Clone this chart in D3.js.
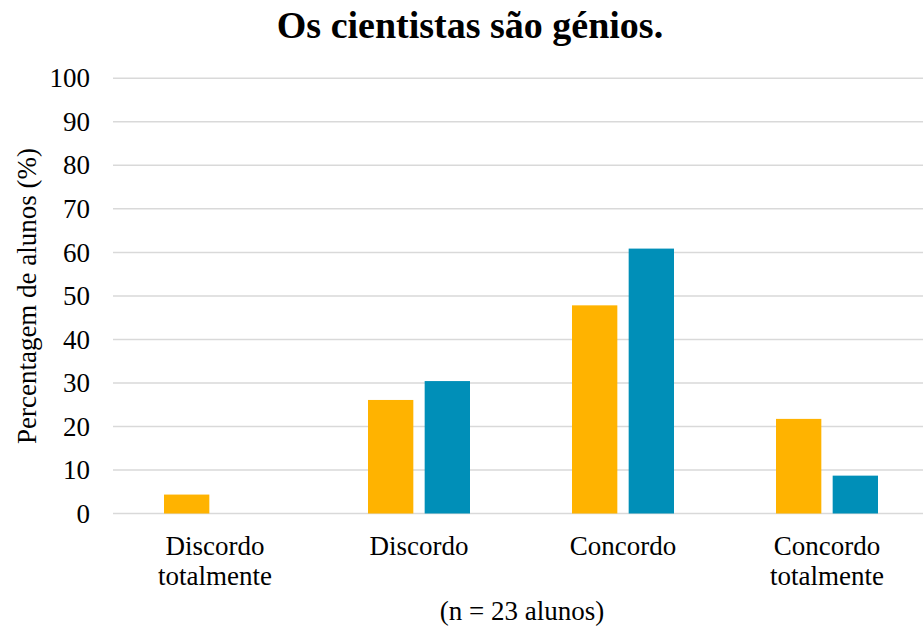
<!DOCTYPE html>
<html>
<head>
<meta charset="utf-8">
<script src="https://cdn.jsdelivr.net/npm/d3@7"></script>
<style>
  body { margin: 0; background: #fff; }
  svg { display: block; }
  text { font-family: "Liberation Serif", "Times New Roman", serif; }
</style>
</head>
<body>
<svg id="chart" width="923" height="630"></svg>
<script>
// dados (n = 23 alunos)
const categorias = ["Discordo totalmente", "Discordo", "Concordo", "Concordo totalmente"];
const series = ["serieA", "serieB"];
const valoresA = [4.35, 26.09, 47.83, 21.74];
const valoresB = [0, 30.43, 60.87, 8.70];
const ticksY = [0, 10, 20, 30, 40, 50, 60, 70, 80, 90, 100];
const cores = ["#FFB300", "#008FB8"];

const fonte = "Liberation Serif, Times New Roman, serif";
const svg = d3.select("#chart");

const x0 = d3.scaleBand()
  .domain(categorias)
  .range([113, 929])
  .paddingInner(0.5)
  .paddingOuter(0.25);

const x1 = d3.scaleBand()
  .domain(series)
  .range([0, x0.bandwidth()])
  .paddingInner(0.2);

const y = d3.scaleLinear().domain([0, 100]).range([513.5, 78.3]);

// grelha
svg.append("g")
  .selectAll("line")
  .data(ticksY)
  .enter().append("line")
  .attr("x1", 113)
  .attr("x2", 929)
  .attr("y1", d => y(d))
  .attr("y2", d => y(d))
  .attr("stroke", "#d9d9d9")
  .attr("stroke-width", 1.5);

// eixo y
const eixoY = svg.append("g")
  .attr("transform", "translate(113,0)")
  .call(d3.axisLeft(y).tickValues(ticksY).tickSize(0).tickPadding(23));
eixoY.attr("font-family", fonte).attr("font-size", 27);
eixoY.select(".domain").remove();
eixoY.selectAll("text")
  .attr("fill", "#000");

// barras
const dados = categorias.map((c, i) => ({ cat: c, vals: [valoresA[i], valoresB[i]] }));

const grupo = svg.append("g")
  .selectAll("g")
  .data(dados)
  .enter().append("g")
  .attr("transform", d => `translate(${x0(d.cat)},0)`);

grupo.selectAll("rect")
  .data(d => d.vals.map((v, j) => ({ serie: series[j], v, j })))
  .enter().append("rect")
  .filter(d => d.v > 0)
  .attr("x", d => x1(d.serie))
  .attr("width", x1.bandwidth())
  .attr("y", d => y(d.v))
  .attr("height", d => y(0) - y(d.v))
  .attr("fill", d => cores[d.j]);

// rótulos das categorias
const rotulos = svg.append("g")
  .selectAll("text")
  .data(categorias)
  .enter().append("text")
  .attr("text-anchor", "middle")
  .attr("font-family", fonte)
  .attr("font-size", 27)
  .attr("fill", "#000")
  .attr("x", d => x0(d) + x0.bandwidth() / 2)
  .attr("y", 555);

rotulos.each(function(d) {
  const palavras = d.split(" ");
  const t = d3.select(this);
  palavras.forEach((p, i) => {
    t.append("tspan")
      .attr("x", x0(d) + x0.bandwidth() / 2)
      .attr("dy", i === 0 ? 0 : 30)
      .text(p);
  });
});

// títulos
svg.append("text")
  .attr("x", 470)
  .attr("y", 38)
  .attr("text-anchor", "middle")
  .attr("font-family", fonte)
  .attr("font-size", 38)
  .attr("font-weight", "bold")
  .text("Os cientistas são génios.");

svg.append("text")
  .attr("transform", "translate(36,296) rotate(-90)")
  .attr("text-anchor", "middle")
  .attr("font-family", fonte)
  .attr("font-size", 27)
  .text("Percentagem de alunos (%)");

svg.append("text")
  .attr("x", 522)
  .attr("y", 620)
  .attr("text-anchor", "middle")
  .attr("font-family", fonte)
  .attr("font-size", 27)
  .text("(n = 23 alunos)");
</script>
</body>
</html>
